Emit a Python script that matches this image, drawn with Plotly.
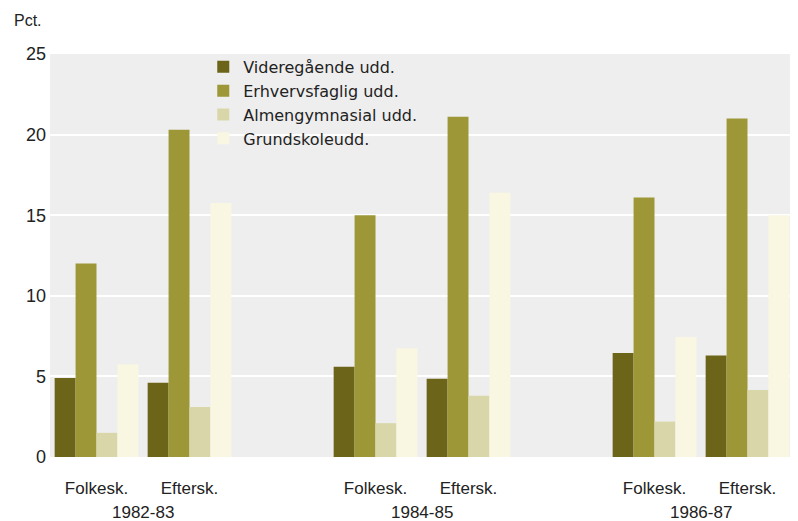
import plotly.graph_objects as go

periods = ["1982-83", "1984-85", "1986-87"]
schools = ["Folkesk.", "Eftersk."]
series_names = ["Videregående udd.", "Erhvervsfaglig udd.", "Almengymnasial udd.", "Grundskoleudd."]
# order: 82 Folkesk, 82 Eftersk, 84 Folkesk, 84 Eftersk, 86 Folkesk, 86 Eftersk
videregaaende = [4.9, 4.6, 5.6, 4.85, 6.45, 6.3]
erhvervsfaglig = [12.0, 20.3, 15.0, 21.1, 16.1, 21.0]
almengymnasial = [1.5, 3.1, 2.1, 3.8, 2.2, 4.15]
grundskole = [5.75, 15.75, 6.75, 16.4, 7.45, 15.0]
colors = ["#6b6419", "#9d9737", "#d9d7a9", "#f9f7e2"]
yticks = [0, 5, 10, 15, 20, 25]

W, H = 790, 513
ML, MR, MT, MB = 42, 4, 46, 64
PW = W - ML - MR

xpos = []
xlab = []
for i, p in enumerate(periods):
    for j, s in enumerate(schools):
        xpos.append(i * 3 + j)
        xlab.append(s)

fig = go.Figure()
for name, vals, c in zip(series_names, [videregaaende, erhvervsfaglig, almengymnasial, grundskole], colors):
    fig.add_trace(go.Bar(x=xpos, y=vals, name=name, marker=dict(color=c, line=dict(width=0))))

for i, p in enumerate(periods):
    fig.add_annotation(x=i * 3 + 0.5, y=0, xref="x", yref="paper", yanchor="middle",
                       yshift=-55, text=p, showarrow=False, font=dict(size=17, color="#222"))

fig.add_annotation(x=(4 - ML) / PW, y=1, xref="paper", yref="paper", xanchor="left", yanchor="bottom",
                   yshift=23, text="Pct.", showarrow=False,
                   font=dict(size=16, color="#222"))

fig.update_layout(
    width=W, height=H,
    margin=dict(l=ML, r=MR, t=MT, b=MB),
    barmode="group", bargap=0.1, bargroupgap=0,
    plot_bgcolor="#eeeeee", paper_bgcolor="white",
    font=dict(family="Liberation Sans, Arial, sans-serif", size=17, color="#222"),
    showlegend=True,
    legend=dict(x=0.206, y=1.01, xanchor="left", yanchor="top", bgcolor="rgba(0,0,0,0)",
                font=dict(size=16, family="DejaVu Sans, sans-serif"),
                traceorder="normal", itemwidth=30, tracegroupgap=0),
    xaxis=dict(range=[-0.5, 7.5], tickmode="array", tickvals=xpos, ticktext=xlab,
               showgrid=False, zeroline=False, ticks="", showline=False,
               tickfont=dict(size=17), ticklabelstandoff=19),
    yaxis=dict(range=[0, 25], tickmode="array", tickvals=yticks, showgrid=True,
               gridcolor="white", gridwidth=2, zeroline=False, ticks="", showline=False,
               tickfont=dict(size=18), ticklabelstandoff=3),
)

fig.write_html("out.html")
